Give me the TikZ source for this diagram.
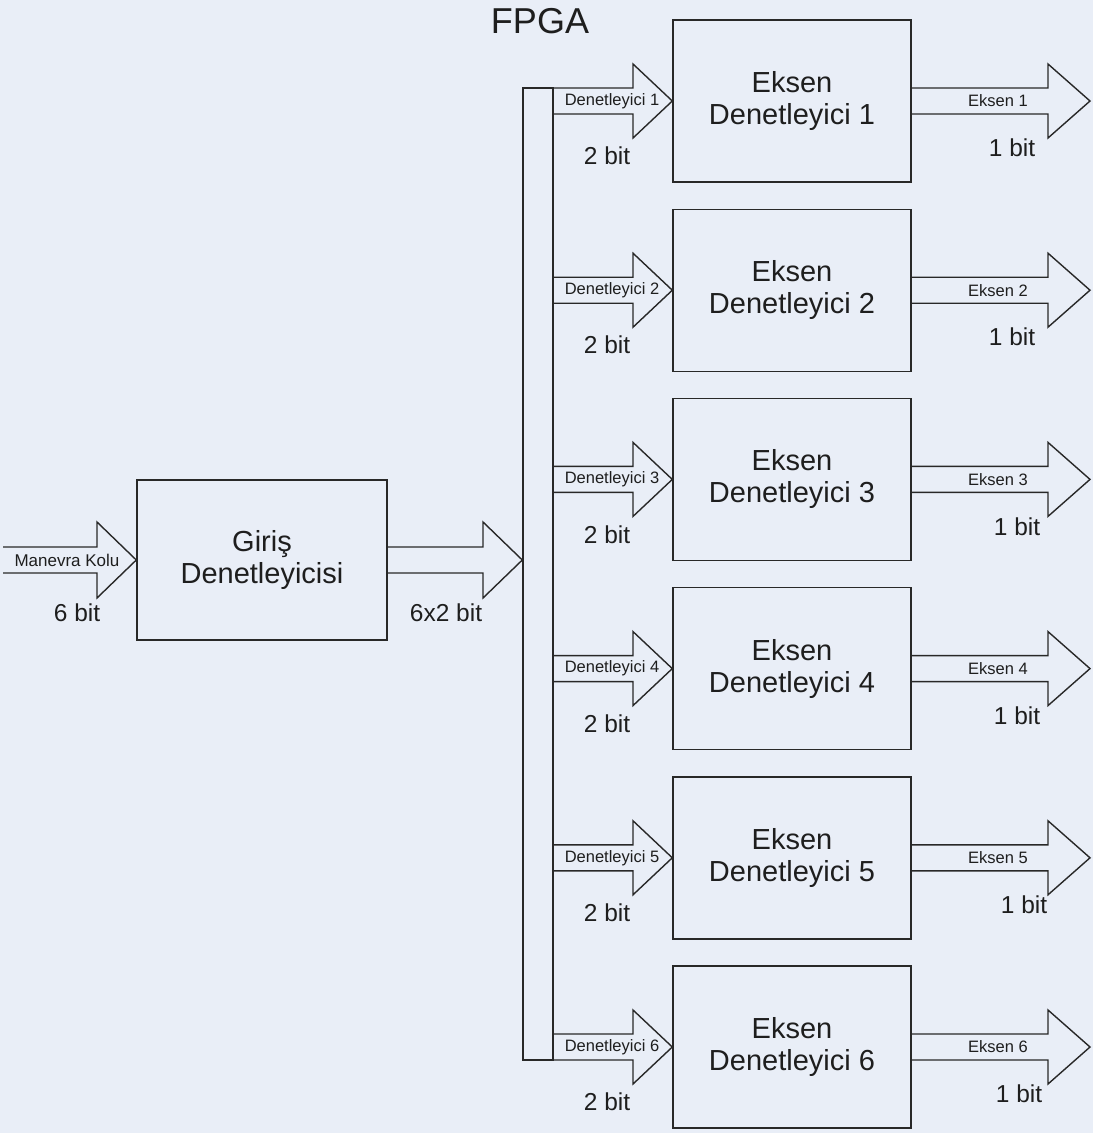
\documentclass[tikz,border=0pt]{standalone}
\usepackage{fontspec}
\setmainfont{Liberation Sans}
\definecolor{bgc}{RGB}{233,238,247}
\definecolor{lnc}{RGB}{40,40,40}
\definecolor{txc}{RGB}{30,30,30}
\tikzset{
  ln/.style={draw=lnc, line width=1.4pt, line join=miter},
  blk/.style={ln, rectangle, align=center, text=txc, inner sep=0pt},
  bigtxt/.style={font=\fontsize{29}{32}\selectfont},
  smalltxt/.style={font=\fontsize{16.5}{18}\selectfont, text=txc, inner sep=0pt},
  bittxt/.style={font=\fontsize{24.5}{28}\selectfont, text=txc, inner sep=0pt}
}
\begin{document}
\begin{tikzpicture}[x=1pt,y=-1pt]
\fill[bgc] (0,0) rectangle (1093,1133);
\useasboundingbox (0,0) rectangle (1093,1133);

\node[font=\fontsize{36}{40}\selectfont, text=txc, inner sep=0pt] (fpga) at (540,21) {FPGA};

% input controller
\node[blk, bigtxt, minimum width=250pt, minimum height=160pt] (gir) at (262,560) {Giriş\\Denetleyicisi};

% input arrow
\coordinate (inL) at (3,560);
\draw[ln] (inL |- 0,547) -- (97,547) -- (97,522) -- (gir.west) -- (97,598) -- (97,573) -- (inL |- 0,573);
\node[smalltxt, font=\fontsize{17}{18}\selectfont] (mk) at (67,560) {Manevra Kolu};
\node[bittxt] (b6) at (77,613) {6 bit};

% bus
\node[ln, rectangle, minimum width=30pt, minimum height=972pt, inner sep=0pt] (bus) at (538,574) {};

% output arrow
\draw[ln] (gir.east |- 0,547) -- (483,547) -- (483,522) -- (bus.west |- gir.east) -- (483,598) -- (483,573) -- (gir.east |- 0,573);
\node[bittxt] (b62) at (446,613) {6x2 bit};

\foreach \i/\bx in {1/1012,2/1012,3/1017,4/1017,5/1024,6/1019} {
  \pgfmathsetmacro\c{20+189.2*(\i-1)+81}
  \node[blk, bigtxt, minimum width=238pt, minimum height=162pt] (e\i) at (792,\c) {Eksen\\Denetleyici \i};
  \draw[ln] (bus.east |- 0,\c-13) -- (633,\c-13) -- (633,\c-37) -- (e\i.west) -- (633,\c+37) -- (633,\c+13) -- (bus.east |- 0,\c+13);
  \node[smalltxt] (d\i) at (612,\c) {Denetleyici \i};
  \node[bittxt] (tb\i) at (607,\c+55) {2 bit};
  \coordinate (tip\i) at (1090,\c);
  \draw[ln] (e\i.east |- 0,\c-13) -- (1048,\c-13) -- (1048,\c-37) -- (tip\i) -- (1048,\c+37) -- (1048,\c+13) -- (e\i.east |- 0,\c+13);
  \node[smalltxt] (x\i) at (998,\c) {Eksen \i};
  \node[bittxt] (ob\i) at (\bx,\c+47) {1 bit};
}
\end{tikzpicture}
\end{document}
